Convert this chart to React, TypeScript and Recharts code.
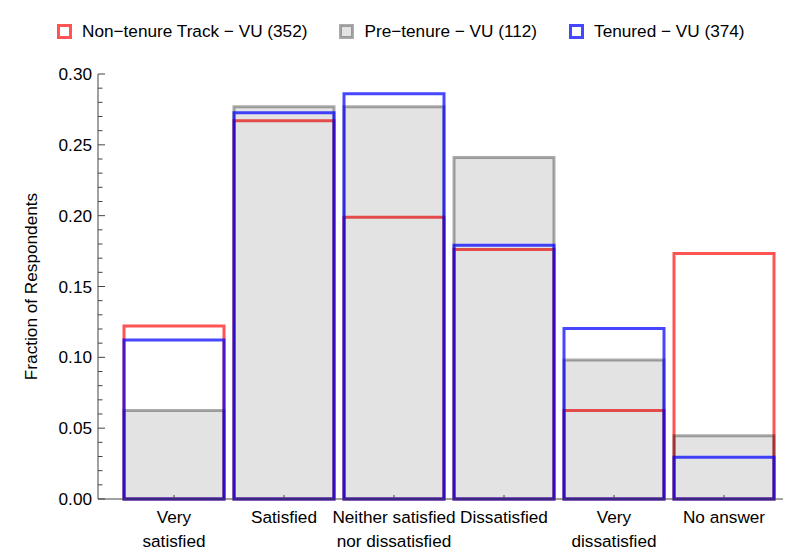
import { BarChart, Bar, XAxis, YAxis, Legend, Label } from "recharts";

// survey answers, in axis order ("\n" marks the line break of the tick label)
const categories = [
  "Very\nsatisfied",
  "Satisfied",
  "Neither satisfied\nnor dissatisfied",
  "Dissatisfied",
  "Very\ndissatisfied",
  "No answer",
];

// fraction of respondents per answer
const nonTenure = [0.1222, 0.267, 0.1989, 0.1761, 0.0625, 0.1733];
const preTenure = [0.0625, 0.2768, 0.2768, 0.2411, 0.0982, 0.0446];
const tenured = [0.1123, 0.2727, 0.2861, 0.1791, 0.1203, 0.0294];

const seriesNames = [
  "Non−tenure Track − VU (352)",
  "Pre−tenure − VU (112)",
  "Tenured − VU (374)",
];

const yTicks = [
  0, 0.01, 0.02, 0.03, 0.04, 0.05, 0.06, 0.07, 0.08, 0.09, 0.1, 0.11, 0.12, 0.13, 0.14, 0.15,
  0.16, 0.17, 0.18, 0.19, 0.2, 0.21, 0.22, 0.23, 0.24, 0.25, 0.26, 0.27, 0.28, 0.29, 0.3,
];

const data = categories.map((name, i) => ({
  name,
  nonTenure: nonTenure[i],
  preTenure: preTenure[i],
  tenured: tenured[i],
}));

const FONT = "'Liberation Sans', Arial, Helvetica, sans-serif";
const FS = 17.2;
const AXIS = "#444";

const strokes = ["rgba(255,0,0,0.67)", "rgba(0,0,0,0.33)", "rgba(0,0,255,0.72)"];
const fills = ["none", "rgba(0,0,0,0.11)", "none"];

function YTick(props: any) {
  const { x, y, payload } = props;
  const ax = x + 6;
  const major = Math.round(payload.value * 100) % 5 === 0;
  return (
    <g>
      <line x1={ax} x2={ax + (major ? 7 : 4.5)} y1={y} y2={y} stroke={AXIS} strokeWidth={1} />
      {major && (
        <text x={x} y={y} dy={6} textAnchor="end" fontSize={FS} fill="#000">
          {payload.value.toFixed(2)}
        </text>
      )}
    </g>
  );
}

function XTick(props: any) {
  const { x, y, payload } = props;
  const lines = String(payload.value).split("\n");
  return (
    <g>
      <line x1={x} x2={x} y1={y} y2={y - 4} stroke={AXIS} strokeWidth={1} />
      {lines.map((l, i) => (
        <text key={i} x={x} y={y + 24 + i * 24} textAnchor="middle" fontSize={FS} fill="#000">
          {l}
        </text>
      ))}
    </g>
  );
}

function LegendBox() {
  return (
    <div
      style={{
        height: 74,
        boxSizing: "border-box",
        paddingTop: 22,
        paddingLeft: 57,
        display: "flex",
        alignItems: "flex-start",
        fontFamily: FONT,
        fontSize: FS,
        lineHeight: "18px",
      }}
    >
      {seriesNames.map((n, i) => (
        <div key={n} style={{ display: "flex", alignItems: "center", marginRight: 32 }}>
          <svg width={15} height={15} style={{ display: "block" }}>
            <rect x={1.5} y={1.5} width={12} height={12} fill={fills[i] === "none" ? "#fff" : fills[i]} stroke={strokes[i]} strokeWidth={3} />
          </svg>
          <span style={{ marginLeft: 10, whiteSpace: "nowrap" }}>{n}</span>
        </div>
      ))}
    </div>
  );
}

export default function App() {
  return (
    <div style={{ width: 785, height: 552, fontFamily: FONT }}>
      <style>{`body{margin:0}`}</style>
      <BarChart
        width={785}
        height={552}
        data={data}
        margin={{ top: 0, right: 2, bottom: 0, left: 0 }}
        barSize={100}
        barGap={-100}
      >
        <Legend verticalAlign="top" content={() => <LegendBox />} />
        <XAxis
          dataKey="name"
          height={53}
          interval={0}
          padding={{ left: 21, right: 4 }}
          tickLine={false}
          tickSize={0}
          tickMargin={0}
          stroke={AXIS}
          tick={(p: any) => <XTick {...p} />}
        />
        <YAxis
          width={98}
          domain={[0, 0.3]}
          ticks={yTicks}
          interval={0}
          tickLine={false}
          tickSize={0}
          tickMargin={6}
          stroke={AXIS}
          tick={(p: any) => <YTick {...p} />}
        >
          <Label
            content={(p: any) => {
              const vb = p.viewBox || { x: 0, y: 74, width: 98, height: 425 };
              const cx = vb.x + 31;
              const cy = vb.y + vb.height / 2;
              return (
                <text x={cx} y={cy} transform={`rotate(-90 ${cx} ${cy})`} textAnchor="middle" dy={6} fontSize={FS} fill="#000">
                  Fraction of Respondents
                </text>
              );
            }}
          />
        </YAxis>
        <Bar dataKey="nonTenure" name={seriesNames[0]} fill={fills[0]} stroke={strokes[0]} strokeWidth={3} isAnimationActive={false} />
        <Bar dataKey="preTenure" name={seriesNames[1]} fill={fills[1]} stroke={strokes[1]} strokeWidth={3} isAnimationActive={false} />
        <Bar dataKey="tenured" name={seriesNames[2]} fill={fills[2]} stroke={strokes[2]} strokeWidth={3} isAnimationActive={false} />
      </BarChart>
    </div>
  );
}
